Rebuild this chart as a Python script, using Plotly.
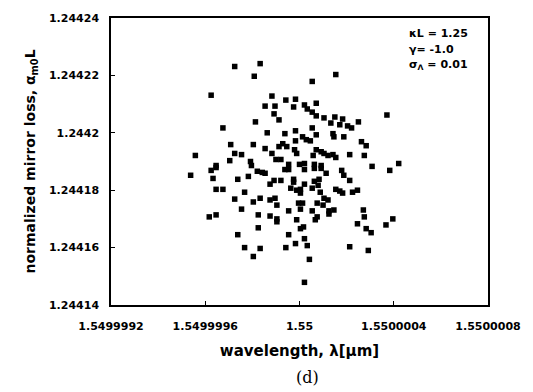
import plotly.graph_objects as go

# wavelength (um) and normalized mirror loss values
wavelength = [
    1.549999725, 1.549999833, 1.549999808, 1.549999625, 1.549999883, 1.549999854, 1.549999896, 1.549999892,
    1.549999913, 1.549999813, 1.549999675, 1.549999863, 1.549999708, 1.549999804, 1.549999854, 1.549999913,
    1.549999558, 1.549999725, 1.549999754, 1.549999883, 1.549999704, 1.549999792, 1.549999646, 1.549999900,
    1.550000154, 1.550000054, 1.549999942, 1.549999983, 1.549999975, 1.550000071, 1.550000021, 1.550000033,
    1.550000054, 1.550000071, 1.550000104, 1.550000150, 1.550000133, 1.550000183, 1.550000171, 1.550000204,
    1.550000221, 1.550000250, 1.550000371, 1.549999938, 1.549999983, 1.550000054, 1.550000071, 1.550000142,
    1.550000146, 1.550000188, 1.550000013, 1.550000029, 1.550000046, 1.549999983, 1.549999929, 1.549999946,
    1.549999979, 1.549999988, 1.550000263, 1.550000283, 1.550000071, 1.550000092, 1.550000104, 1.550000121,
    1.550000142, 1.550000154, 1.550000058, 1.550000213, 1.550000275, 1.550000021, 1.550000000, 1.550000063,
    1.550000092, 1.549999954, 1.550000421, 1.550000308, 1.550000383, 1.549999538, 1.549999625, 1.549999646,
    1.549999633, 1.549999738, 1.549999783, 1.549999821, 1.549999842, 1.549999854, 1.549999875, 1.549999892,
    1.549999921, 1.549999646, 1.549999675, 1.549999767, 1.549999725, 1.549999804, 1.549999833, 1.549999875,
    1.549999896, 1.549999904, 1.549999754, 1.549999617, 1.549999646, 1.549999825, 1.549999875, 1.549999904,
    1.549999904, 1.549999825, 1.549999738, 1.549999767, 1.549999833, 1.549999804, 1.549999796, 1.549999921,
    1.549999938, 1.549999954, 1.550000021, 1.550000063, 1.550000092, 1.550000113, 1.550000179, 1.550000188,
    1.550000213, 1.549999975, 1.549999975, 1.550000021, 1.550000063, 1.550000083, 1.550000079, 1.549999963,
    1.549999988, 1.550000004, 1.550000004, 1.550000054, 1.550000088, 1.550000154, 1.550000171, 1.550000183,
    1.550000225, 1.550000246, 1.550000104, 1.550000121, 1.549999996, 1.550000013, 1.550000004, 1.550000075,
    1.550000100, 1.550000125, 1.550000146, 1.550000125, 1.549999954, 1.550000054, 1.550000075, 1.550000067,
    1.549999988, 1.550000271, 1.550000275, 1.550000246, 1.550000283, 1.550000304, 1.550000367, 1.550000396,
    1.550000017, 1.550000004, 1.549999954, 1.550000021, 1.550000033, 1.549999983, 1.549999942, 1.550000213,
    1.550000292, 1.550000042, 1.550000021,
]
mirror_loss = [
    1.2442231, 1.2442241, 1.2442197, 1.2442131, 1.2442128, 1.2442093, 1.2442093, 1.2442066,
    1.2442045, 1.2442038, 1.2442017, 1.2442000, 1.2441959, 1.2441959, 1.2441945, 1.2441952,
    1.2441921, 1.2441928, 1.2441924, 1.2441928, 1.2441903, 1.2441900, 1.2441886, 1.2441907,
    1.2442203, 1.2442179, 1.2442114, 1.2442117, 1.2442090, 1.2442103, 1.2442097, 1.2442083,
    1.2442072, 1.2442059, 1.2442052, 1.2442055, 1.2442034, 1.2442048, 1.2442028, 1.2442024,
    1.2442017, 1.2442038, 1.2442062, 1.2441997, 1.2442007, 1.2442017, 1.2441993, 1.2441997,
    1.2441986, 1.2441986, 1.2441986, 1.2441976, 1.2441972, 1.2441972, 1.2441962, 1.2441952,
    1.2441941, 1.2441928, 1.2441969, 1.2441955, 1.2441941, 1.2441934, 1.2441928, 1.2441921,
    1.2441924, 1.2441914, 1.2441921, 1.2441924, 1.2441921, 1.2441893, 1.2441890, 1.2441890,
    1.2441886, 1.2441890, 1.2441893, 1.2441883, 1.2441869, 1.2441852, 1.2441869, 1.2441879,
    1.2441841, 1.2441838, 1.2441848, 1.2441866, 1.2441862, 1.2441859, 1.2441821, 1.2441834,
    1.2441834, 1.2441803, 1.2441803, 1.2441793, 1.2441769, 1.2441759, 1.2441772, 1.2441766,
    1.2441772, 1.2441748, 1.2441734, 1.2441707, 1.2441714, 1.2441714, 1.2441710, 1.2441700,
    1.2441690, 1.2441669, 1.2441645, 1.2441600, 1.2441597, 1.2441569, 1.2441886, 1.2441907,
    1.2441872, 1.2441872, 1.2441872, 1.2441876, 1.2441876, 1.2441859, 1.2441869, 1.2441852,
    1.2441834, 1.2441838, 1.2441828, 1.2441821, 1.2441831, 1.2441838, 1.2441817, 1.2441807,
    1.2441800, 1.2441790, 1.2441803, 1.2441807, 1.2441793, 1.2441803, 1.2441797, 1.2441790,
    1.2441793, 1.2441800, 1.2441772, 1.2441766, 1.2441755, 1.2441755, 1.2441734, 1.2441755,
    1.2441748, 1.2441728, 1.2441731, 1.2441717, 1.2441728, 1.2441728, 1.2441707, 1.2441697,
    1.2441697, 1.2441731, 1.2441707, 1.2441683, 1.2441666, 1.2441652, 1.2441679, 1.2441700,
    1.2441672, 1.2441666, 1.2441645, 1.2441631, 1.2441607, 1.2441614, 1.2441600, 1.2441603,
    1.2441590, 1.2441559, 1.2441479,
]

x_tick_vals = [1.5499992, 1.5499996, 1.55, 1.5500004, 1.5500008]
x_tick_text = ["1.5499992", "1.5499996", "1.55", "1.5500004", "1.5500008"]
y_tick_vals = [1.24414, 1.24416, 1.24418, 1.2442, 1.24422, 1.24424]
y_tick_text = ["1.24414", "1.24416", "1.24418", "1.2442", "1.24422", "1.24424"]

param_lines = ["\u03baL = 1.25", "\u03b3= -1.0", "\u03c3<sub>\u039b</sub> = 0.01"]

FONT = "DejaVu Sans"

fig = go.Figure()
fig.add_trace(go.Scatter(
    x=wavelength, y=mirror_loss, mode="markers",
    marker=dict(symbol="square", size=5.5, color="black", line=dict(width=0)),
    showlegend=False,
))

axis_common = dict(
    showgrid=False, zeroline=False, showline=True, linecolor="black", linewidth=1.5,
    mirror=True, ticks="inside", ticklen=4, tickcolor="black", tickwidth=1,
)
fig.update_xaxes(
    range=[1.5499992, 1.5500008], tickvals=x_tick_vals, ticktext=x_tick_text,
    tickfont=dict(family=FONT, size=11, color="black", weight="bold"),
    ticklabelstandoff=10,
    title=dict(text="wavelength, \u03bb[\u03bcm]", font=dict(family=FONT, size=15, color="black", weight="bold"),
               standoff=14),
    **axis_common,
)
fig.update_yaxes(
    range=[1.24414, 1.24424], tickvals=y_tick_vals, ticktext=y_tick_text,
    tickfont=dict(family=FONT, size=11, color="black", weight="bold"),
    ticklabelstandoff=8,
    title=dict(text="normalized mirror loss, \u03b1<sub>m0</sub>L",
               font=dict(family=FONT, size=14, color="black", weight="bold"), standoff=10),
    **axis_common,
)

ys = [0.945, 0.889, 0.837]
for txt, yy in zip(param_lines, ys):
    fig.add_annotation(text=txt, xref="paper", yref="paper", x=0.786, y=yy, xanchor="left",
                       yanchor="middle", showarrow=False,
                       font=dict(family=FONT, size=11, color="black", weight="bold"))

fig.add_annotation(text="(d)", xref="paper", yref="paper", x=0.52, y=-0.253, xanchor="center",
                   yanchor="middle", showarrow=False,
                   font=dict(family="DejaVu Serif", size=16, color="black"))

fig.update_layout(
    width=533, height=392, margin=dict(l=111, r=38, t=16, b=87),
    paper_bgcolor="white", plot_bgcolor="white",
)
fig.write_html("out.html")
